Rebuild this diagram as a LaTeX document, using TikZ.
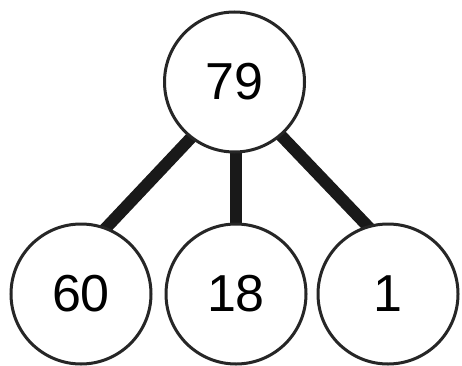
\documentclass[tikz,border=0pt]{standalone}
\usepackage{fontspec}
\setmainfont{Liberation Sans}
\usetikzlibrary{backgrounds}
\begin{document}
\begin{tikzpicture}[x=1pt,y=1pt,
  numcircle/.style={circle,draw=black!85,line width=3pt,fill=white,minimum size=140pt,inner sep=0pt,
    font=\fontsize{52}{52}\selectfont},
  bar/.style={line width=12pt,black!90,shorten <=-10pt,shorten >=-10pt}]
\useasboundingbox (0,0) rectangle (462,365);
\node[numcircle] (top) at (234.5,283) {79};
\node[numcircle] (left) at (81,71) {60};
\node[numcircle] (mid) at (236,71) {18};
\node[numcircle] (right) at (388,71) {1};
\begin{scope}[on background layer]
\draw[bar] (top.232) -- (left.69);
\draw[bar] (top.311) -- (right.107);
\draw[bar] (top.south -| mid.north) -- (mid.north);
\end{scope}
\end{tikzpicture}
\end{document}
